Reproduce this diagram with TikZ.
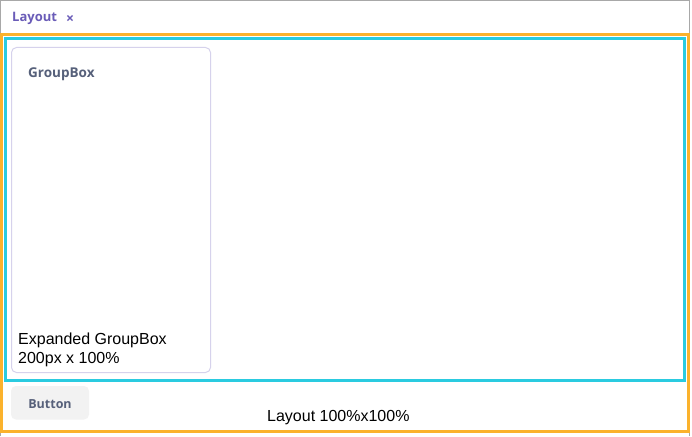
\documentclass[tikz,border=0pt]{standalone}
\usepackage{fontspec}
\setmainfont{Liberation Sans}
\newfontfamily\uifont{Open Sans}
\definecolor{framegray}{HTML}{A8A8A8}
\definecolor{orangeb}{HTML}{FBB22C}
\definecolor{cyanb}{HTML}{2ACBE0}
\definecolor{lavb}{HTML}{D6D2EC}
\definecolor{tabpurple}{HTML}{6A5CB8}
\definecolor{slate}{HTML}{56607A}
\definecolor{btnfill}{HTML}{F2F2F2}
\begin{document}
\begin{tikzpicture}[x=1pt,y=-1pt,
  uitext/.style={font=\uifont\bfseries\fontsize{13}{15}\selectfont, inner sep=0pt},
  plain/.style={font=\fontsize{16}{19}\selectfont, inner sep=0pt, text=black}]
\useasboundingbox (0,0) rectangle (692,436);
\fill[white] (0,0) rectangle (692,436);
% outer frame
\draw[framegray, line width=1pt] (0.5,436) -- (0.5,0.5) -- (689.5,0.5) -- (689.5,436);
% tab
\node[uitext, text=tabpurple, anchor=west] (tab) at (12,18.5) {Layout};
\node[uitext, text=tabpurple, anchor=center, font=\uifont\bfseries\fontsize{14}{16}\selectfont] (close) at (70,19) {×};
% layout frame
\draw[orangeb, line width=3pt] (1.5,34.5) rectangle (688.5,431.5);
\draw[cyanb, line width=3pt] (5.5,38.5) rectangle (684,380.5);
% groupbox
\draw[lavb, line width=1pt, rounded corners=5pt] (11.5,47.5) rectangle (210.5,372.5);
\node[uitext, text=slate, anchor=west, font=\uifont\bfseries\fontsize{13.5}{16}\selectfont] (gbtitle) at (28,74.5) {GroupBox};
\node[plain, anchor=north west, align=left] (gbtext) at (18,332.5) {Expanded GroupBox\\200px x 100\%};
% button
\fill[btnfill, rounded corners=5pt] (11,386) rectangle (89,419.5);
\node[uitext, text=slate, font=\uifont\bfseries\fontsize{12.5}{15}\selectfont] (btn) at (50,404.5) {Button};
% layout label
\node[plain, anchor=west] (lbl) at (267,417.5) {Layout 100\%x100\%};
\end{tikzpicture}
\end{document}
